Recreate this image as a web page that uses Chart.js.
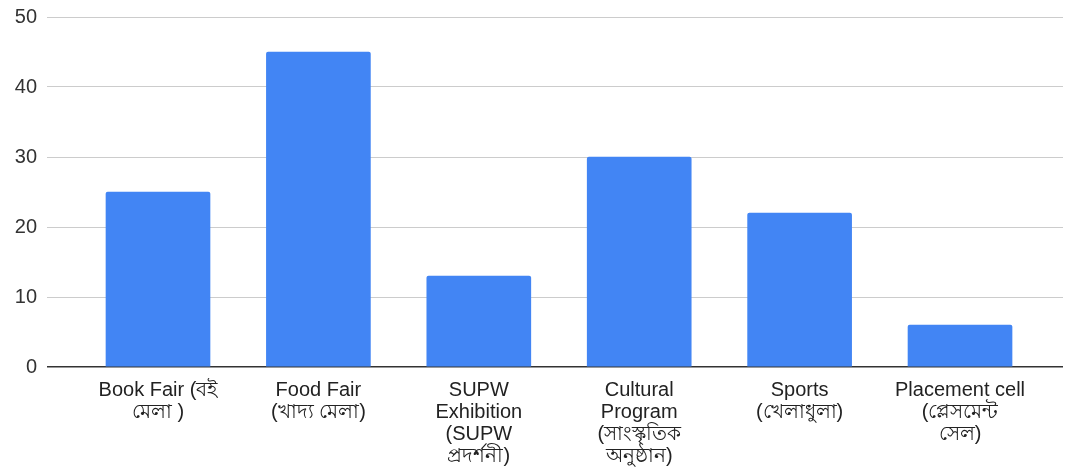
<!DOCTYPE html>
<html>
<head>
<meta charset="utf-8">
<script src="https://cdn.jsdelivr.net/npm/chart.js@4"></script>
<style>
    body { margin: 0; background: #fff; }
    #wrap { width: 1065px; height: 475px; }
</style>
</head>
<body>
<div id="wrap"><canvas id="chart"></canvas></div>
<script>
/**
 * Category labels, already broken into lines as in the picture.
 */
const categories = [
    ["Book Fair (বই", "মেলা )"],
    ["Food Fair", "(খাদ্য মেলা)"],
    ["SUPW", "Exhibition", "(SUPW", "প্রদর্শনী)"],
    ["Cultural", "Program", "(সাংস্কৃতিক", "অনুষ্ঠান)"],
    ["Sports", "(খেলাধুলা)"],
    ["Placement cell", "(প্লেসমেন্ট", "সেল)"]
];

const counts = [25, 45, 13, 30, 22, 6];

const Y_MAX = 50;
const Y_STEP = 10;

const FONT = "'Liberation Sans', Arial, 'Noto Sans', sans-serif";

Chart.defaults.font.family = FONT;
Chart.defaults.color = '#222';

// the bars sit in a band narrower than the gridlines, so the x axis is linear
// with a bit of extra room on both sides
new Chart(document.getElementById('chart'), {
    type: 'bar',
    data: {
        datasets: [{
            data: counts.map((v, i) => ({ x: i, y: v })),
            backgroundColor: '#4285f4',
            borderRadius: 2,
            borderSkipped: 'bottom',
            barThickness: 104
        }]
    },
    options: {
        responsive: true,
        maintainAspectRatio: false,
        animation: false,
        layout: {
            padding: { top: 17, right: 2, left: 0, bottom: 0 }
        },
        plugins: {
            legend: { display: false },
            tooltip: { enabled: false }
        },
        scales: {
            x: {
                type: 'linear',
                min: -0.692,
                max: 5.642,
                offset: false,
                grid: { display: false },
                border: { display: false },
                afterBuildTicks(scale) {
                    scale.ticks = categories.map((_, i) => ({ value: i }));
                },
                ticks: {
                    maxRotation: 0,
                    autoSkip: false,
                    padding: 4,
                    font: { size: 20, lineHeight: 1.1 },
                    color: '#222',
                    callback: (value) => categories[value] || ''
                },
                afterFit(scale) {
                    scale.height = 108;
                    scale.paddingLeft = 0;
                    scale.paddingRight = 0;
                }
            },
            y: {
                min: 0,
                max: Y_MAX,
                ticks: {
                    stepSize: Y_STEP,
                    padding: 10,
                    font: { size: 20 },
                    color: '#333'
                },
                grid: {
                    drawTicks: false,
                    color: (ctx) => ctx.tick && ctx.tick.value === 0 ? '#333' : '#ccc',
                    lineWidth: (ctx) => ctx.tick && ctx.tick.value === 0 ? 1.5 : 1
                },
                border: { display: false },
                afterFit(scale) {
                    scale.width = 47;
                    scale.paddingTop = 0;
                    scale.paddingBottom = 0;
                }
            }
        }
    }
});
</script>
</body>
</html>
